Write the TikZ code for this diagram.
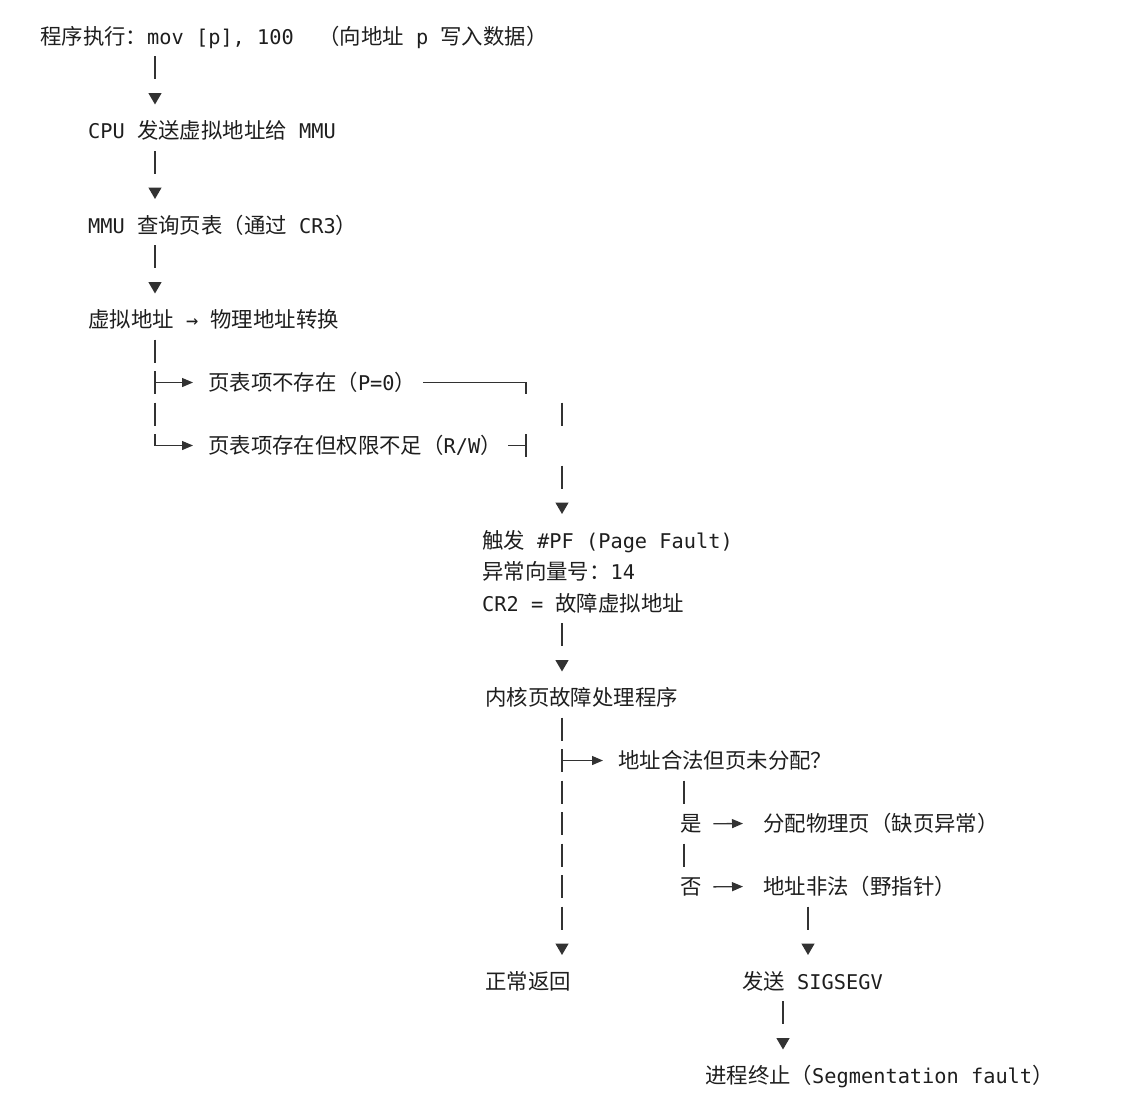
\documentclass[tikz,border=0pt]{standalone}
\usepackage{fontspec}
\newfontfamily\cjkf{Noto Sans CJK SC}
\newfontfamily\monof{DejaVu Sans Mono}
\usetikzlibrary{arrows.meta}
\definecolor{textc}{RGB}{30,30,30}
\definecolor{linec}{RGB}{50,50,50}
\newcommand\CJ[1]{{\cjkf\fontsize{21.4pt}{26pt}\selectfont #1}}
\newcommand\MO[1]{{\monof\fontsize{20.3pt}{26pt}\selectfont #1}}
\begin{document}
\begin{tikzpicture}[x=1pt,y=-1pt,
  txt/.style={anchor=base west, inner sep=0pt, text=textc},
  link/.style={draw=linec, line width=1.3pt},
  vtip/.style={-{Triangle[width=13pt,length=11.5pt]}},
  varrow/.style={link, vtip, dash pattern=on 23pt off 300pt},
  harrow/.style={link, -{Triangle[width=9pt,length=11pt]}},
]
\useasboundingbox (0,0) rectangle (1147,1100);

% ---------- text nodes ----------
\node[txt] (t0) at (40,44) {\CJ{程序执行：}\MO{mov [p], 100\ \ }\CJ{（向地址}\MO{\ p\ }\CJ{写入数据）}};
\node[txt] (t1) at (88,138.5) {\MO{CPU\ }\CJ{发送虚拟地址给}\MO{\ MMU}};
\node[txt] (t2) at (88,233) {\MO{MMU\ }\CJ{查询页表（通过}\MO{\ CR3}\CJ{）}};
\node[txt] (t3) at (88,327.5) {\CJ{虚拟地址}\MO{\ →\ }\CJ{物理地址转换}};
\node[txt] (p0) at (208,390.5) {\CJ{页表项不存在（}\MO{P=0}\CJ{）}};
\node[txt] (rw) at (208,453.5) {\CJ{页表项存在但权限不足（}\MO{R/W}\CJ{）}};
\node[txt] (pf) at (482,548) {\CJ{触发}\MO{\ \#PF (Page Fault)}};
\node[txt] (vec) at (482,579.5) {\CJ{异常向量号：}\MO{14}};
\node[txt] (cr2) at (482,611) {\MO{CR2 =\ }\CJ{故障虚拟地址}};
\node[txt] (kh) at (485,705.5) {\CJ{内核页故障处理程序}};
\node[txt] (q) at (618,768.5) {\CJ{地址合法但页未分配？}};
\node[txt] (yes) at (680,831.5) {\CJ{是}};
\node[txt] (alloc) at (763,831.5) {\CJ{分配物理页（缺页异常）}};
\node[txt] (no) at (680,894.5) {\CJ{否}};
\node[txt] (ill) at (763,894.5) {\CJ{地址非法（野指针）}};
\node[txt] (ret) at (485,989) {\CJ{正常返回}};
\node[txt] (sig) at (742,989) {\CJ{发送}\MO{\ SIGSEGV}};
\node[txt] (term) at (705,1083.5) {\CJ{进程终止（}\MO{Segmentation fault}\CJ{）}};

% ---------- junction coordinates ----------
\coordinate (a1s) at (155,56);    \coordinate (a1e) at (155,104.5);
\coordinate (a2s) at (155,151);   \coordinate (a2e) at (155,199);
\coordinate (a3s) at (155,245);   \coordinate (a3e) at (155,293.5);
\coordinate (bTop) at (155,339.5);
\coordinate (b11) at (155,382.5);
\coordinate (b13) at (155,445.5);
\coordinate (r1) at (526,382.5);  \coordinate (r1d) at (526,394);
\coordinate (r2) at (526,445.5);
\coordinate (r2t) at (526,434);   \coordinate (r2b) at (526,457);
\coordinate (r3s) at (562,402.5); \coordinate (r3e) at (562,514);
\coordinate (f1s) at (562,623);   \coordinate (f1e) at (562,671.5);
\coordinate (g1s) at (562,717.5); \coordinate (g1e) at (562,955);
\coordinate (g23) at (562,760.5);
\coordinate (i1s) at (684,780.5); \coordinate (i1e) at (684,866.5);
\coordinate (l1s) at (808,906.5); \coordinate (l1e) at (808,955);
\coordinate (m1s) at (783,1001);  \coordinate (m1e) at (783,1049.5);

% ---------- connectors ----------
\draw[varrow] (a1s) -- (a1e);
\draw[varrow] (a2s) -- (a2e);
\draw[varrow] (a3s) -- (a3e);

\draw[link, dash pattern=on 23pt off 8.5pt] (bTop) -- (b13);
\draw[harrow, shorten >=15pt] (b11) -- (b11 -| p0.west);
\draw[harrow, shorten >=15pt] (b13) -- (b13 -| rw.west);

\draw[link, shorten <=7pt] (p0.east |- r1) -- (r1) -- (r1d);
\draw[link, shorten <=6.5pt] (rw.east |- r2) -- (r2);
\draw[link] (r2t) -- (r2b);
\draw[link, vtip, dash pattern=on 23pt off 40pt] (r3s) -- (r3e);

\draw[varrow] (f1s) -- (f1e);

\draw[link, vtip, dash pattern=on 23pt off 8.5pt on 23pt off 8.5pt on 23pt off 8.5pt on 23pt off 8.5pt on 23pt off 8.5pt on 23pt off 8.5pt on 23pt off 100pt] (g1s) -- (g1e);
\draw[harrow, shorten >=15pt] (g23) -- (g23 -| q.west);

\draw[link, dash pattern=on 23pt off 40pt] (i1s) -- (i1e);
\draw[harrow, shorten <=11.6pt, shorten >=20pt] (yes.east) -- (alloc.west);
\draw[harrow, shorten <=11.6pt, shorten >=20pt] (no.east) -- (ill.west);

\draw[varrow] (l1s) -- (l1e);
\draw[varrow] (m1s) -- (m1e);
\end{tikzpicture}
\end{document}
